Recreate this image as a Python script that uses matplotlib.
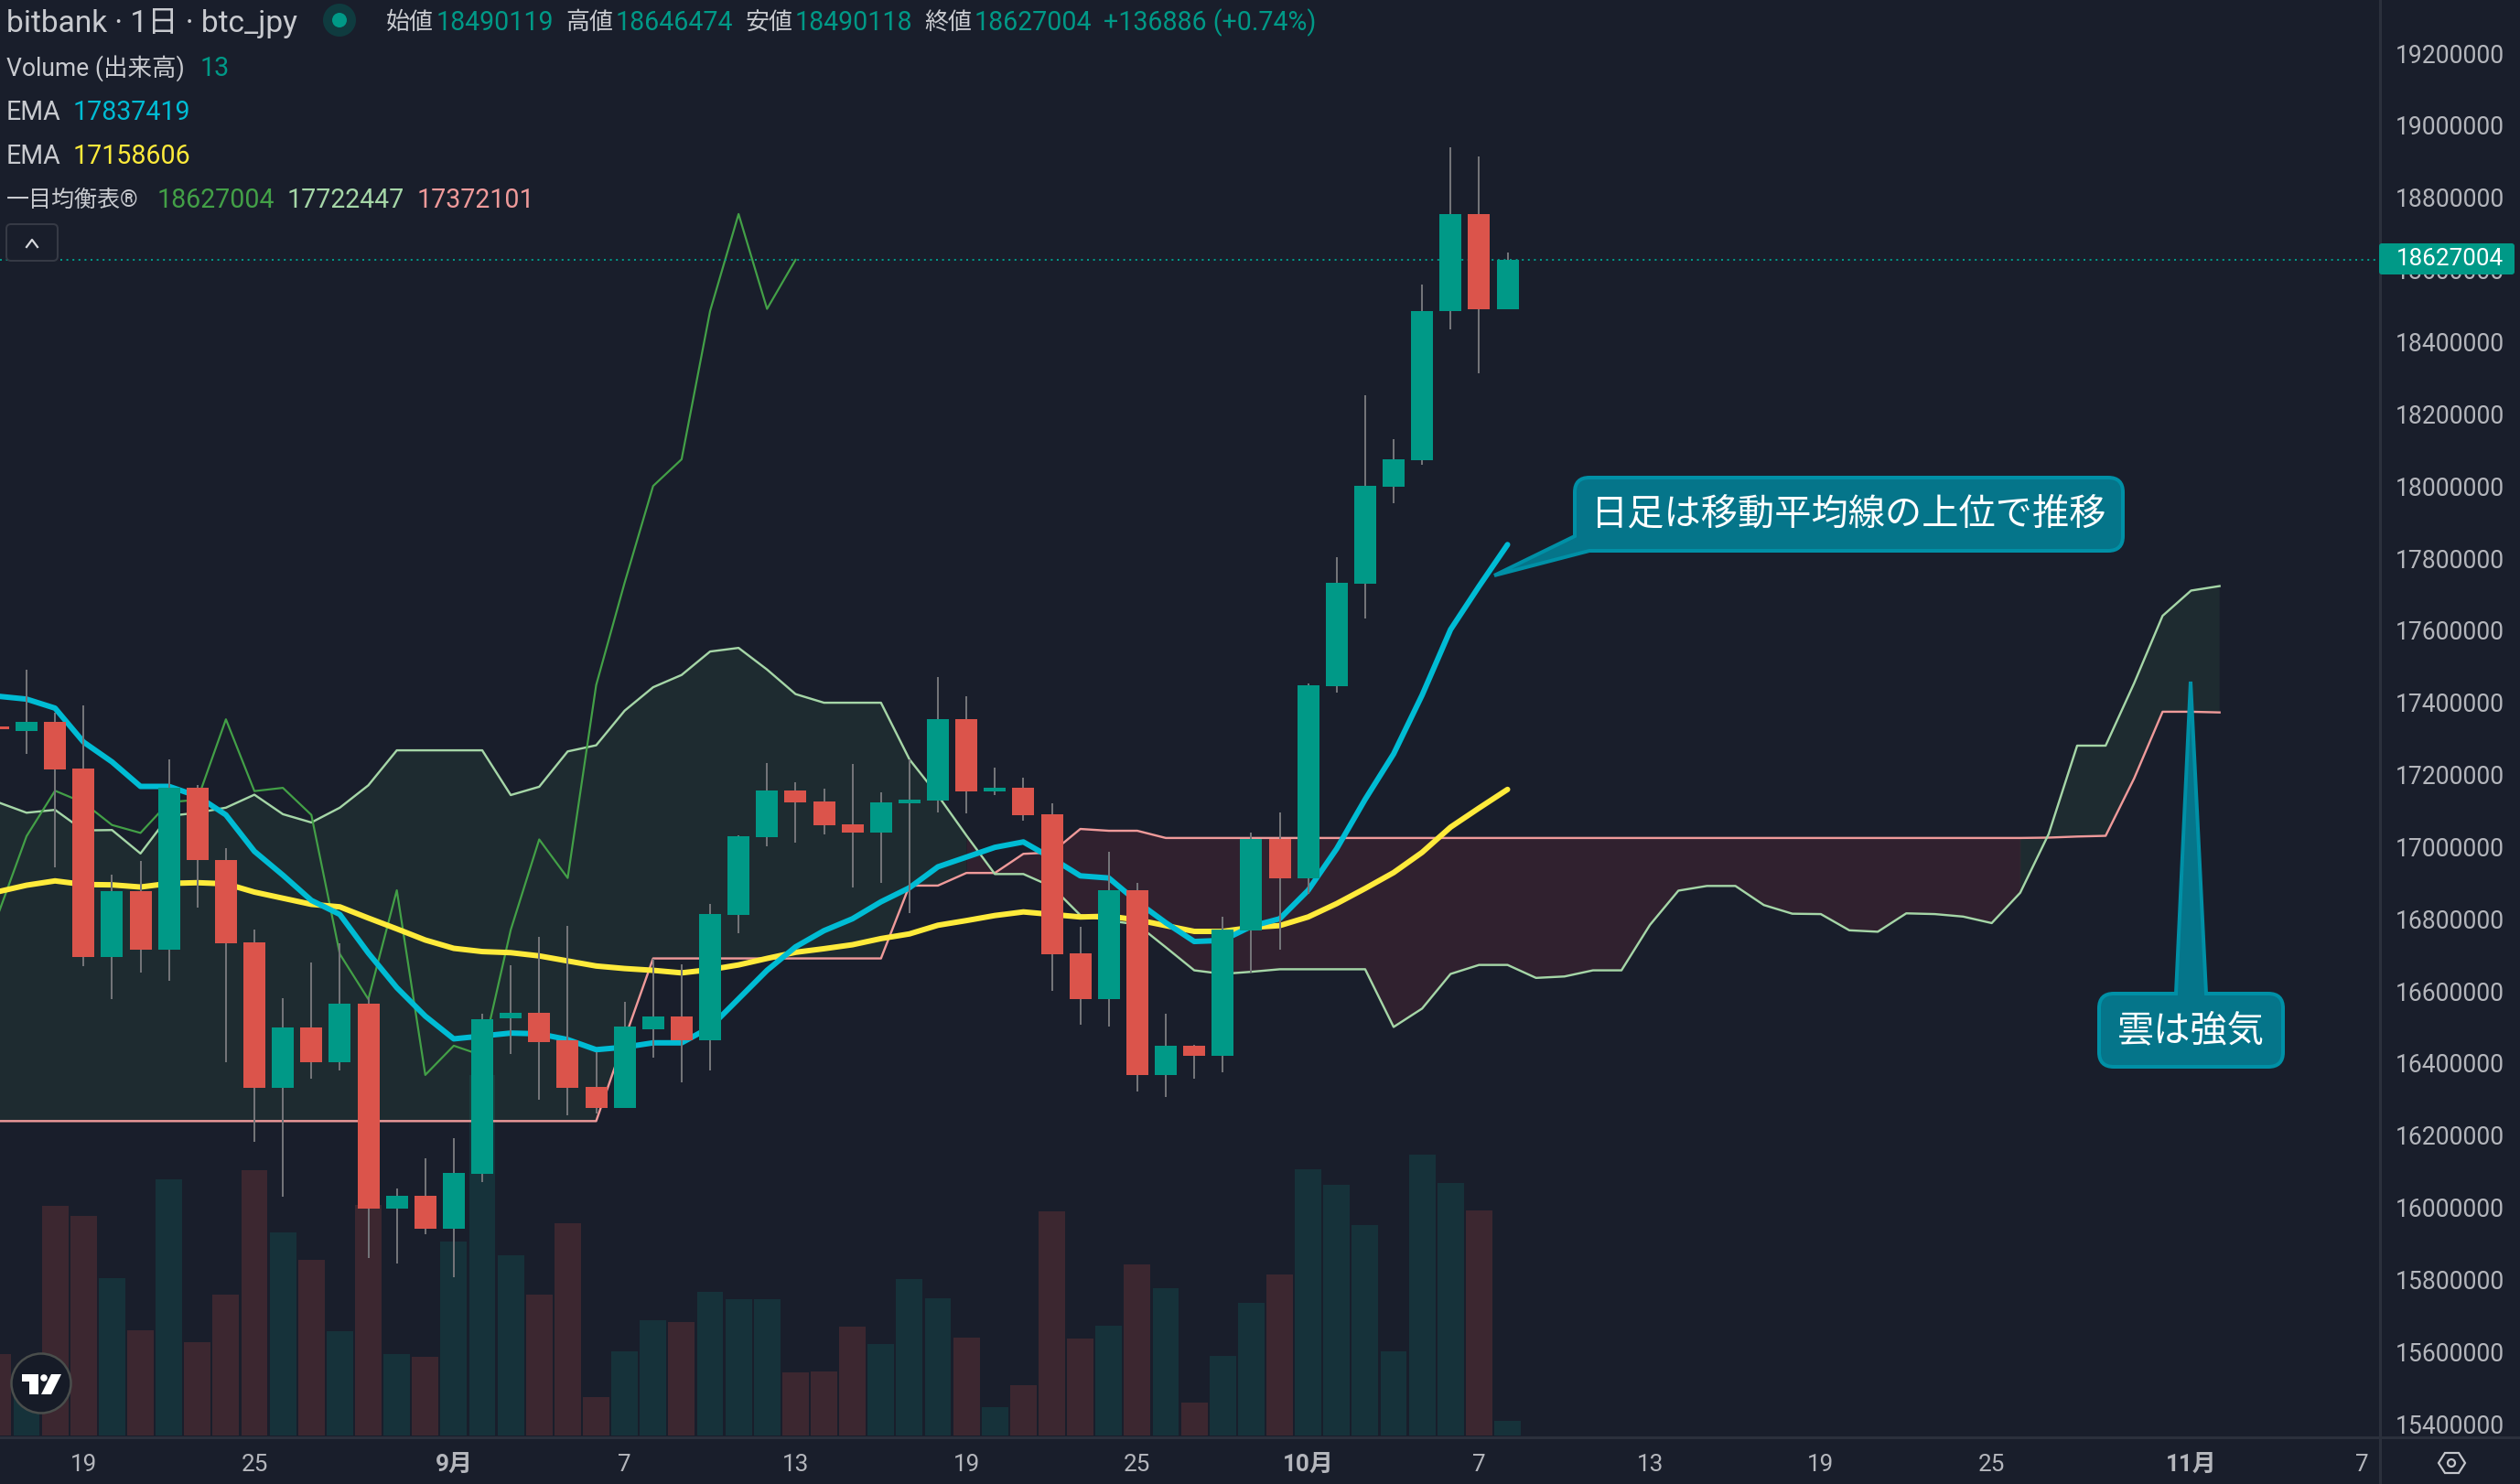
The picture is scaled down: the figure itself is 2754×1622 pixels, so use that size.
import numpy as np
import matplotlib
matplotlib.use("Agg")
import matplotlib.pyplot as plt
from matplotlib.path import Path
from matplotlib.patches import PathPatch, Circle, FancyBboxPatch, Polygon

FONT = ['Roboto', 'Noto Sans CJK JP', 'DejaVu Sans']
plt.rcParams['font.family'] = FONT

# ---------- data (prices in thousand yen, days relative to 1 Sep) ----------
first_day = -16
opens = [17332,17320,17346,17216,16694,16876,16714,17164,16963,16734,16330,16499,16403,16564,15997,16032,
         15940,16094,16524,16539,16463,16334,16276,16494,16529,16464,16811,17027,17155,17124,17062,17038,
         17120,17129,17353,17154,17163,17089,16704,16577,16879,16367,16448,16421,16768,17020,16913,17446,
         17729,17998,18072,18484,18754,18490.119]
highs = [17340,17490,17372,17391,16922,16960,17243,17172,16995,16769,16580,16680,16733,16583,16052,16136,
         16192,16536,16670,16751,16779,16430,16569,16690,16674,16841,17031,17232,17178,17160,17229,17150,
         17242,17470,17417,17218,17191,17120,16778,16986,16900,16537,16451,16805,17039,17094,17452,17802,
         18252,18129,18558,18939,18914,18646.474]
lows = [17320,17258,16943,16669,16576,16651,16629,16832,16401,16182,16030,16357,16379,15859,15844,15925,
        15806,16071,16426,16297,16256,16259,16276,16415,16346,16380,16761,17000,17012,17034,16887,16900,
        16816,17095,17093,17142,17073,16601,16507,16502,16321,16307,16357,16374,16651,16713,16868,17426,
        17633,17953,18059,18435,18313,18490.118]
closes = [17326,17346,17214,16694,16876,16714,17164,16962,16733,16330,16499,16403,16564,15997,16032,15940,
          16095,16521,16539,16459,16332,16276,16501,16529,16464,16812,17029,17155,17122,17060,17038,17123,
          17130,17353,17154,17163,17088,16702,16577,16879,16367,16448,16421,16769,17020,16913,17448,17732,
          18000,18074,18485,18754,18491,18627.004]
volumes = [71,55,201,192,138,92,224,82,123,232,178,154,91,202,71,69,170,315,158,123,186,34,74,101,99,126,119,
           119,55,56,95,80,137,120,86,25,44,196,85,96,150,129,29,70,116,141,233,219,184,74,246,221,197,13]
ema_fast = [17417,17409,17384,17290,17235,17167,17167,17140,17088,16987,16921,16851,16812,16705,16609,16530,
            16467,16475,16483,16481,16465,16437,16444,16456,16456,16499,16578,16657,16722,16767,16800,16847,
            16886,16944,16971,16998,17013,16968,16919,16913,16847,16789,16737,16740,16779,16800,16879,16994,
            17131,17257,17420,17602,17722,17837.419]
ema_slow = [16875,16893,16905,16895,16894,16888,16898,16900,16897,16874,16857,16840,16833,16802,16772,16741,
            16718,16709,16706,16697,16683,16669,16662,16657,16650,16659,16672,16690,16707,16717,16728,16745,
            16758,16782,16795,16809,16819,16812,16805,16807,16797,16781,16765,16765,16776,16781,16805,16842,
            16884,16928,16984,17054,17107,17158.606]
lagging = [16812,17029,17155,17122,17060,17038,17123,17130,17353,17154,17163,17088,16702,16577,16879,16367,
           16448,16421,16769,17020,16913,17448,17732,18000,18074,18485,18754,18491,18627.004]
span_a = [17123,17094,17102,17045,17046,16981,17085,17094,17108,17144,17090,17067,17108,17170,17267,17267,
          17267,17267,17143,17166,17264,17281,17377,17442,17476,17541,17551,17491,17423,17399,17399,17399,
          17242,17142,17031,16924,16924,16889,16810,16795,16784,16721,16657,16647,16653,16660,16660,16660,
          16660,16500,16551,16647,16672,16672,16636,16640,16657,16657,16783,16878,16891,16891,16838,16814,
          16813,16768,16764,16815,16813,16806,16788,16872,17035,17280,17280,17453,17640,17710,17722.447]
span_b = [16239,16239,16239,16239,16239,16239,16239,16239,16239,16239,16239,16239,16239,16239,16239,16239,
          16239,16239,16239,16239,16239,16239,16467,16690,16690,16690,16690,16690,16690,16690,16690,16690,
          16892,16892,16927,16927,16980,16984,17049,17044,17044,17024,17024,17024,17024,17024,17024,17024,
          17024,17024,17024,17024,17024,17024,17024,17024,17024,17024,17024,17024,17024,17024,17024,17024,
          17024,17024,17024,17024,17024,17024,17024,17024,17025,17028,17030,17189,17374,17374,17372.101]
price_ticks = [15400,15600,15800,16000,16200,16400,16600,16800,17000,17200,17400,17600,17800,18000,18200,
               18400,18600,18800,19000,19200]
date_ticks = [-13,-7,0,6,12,18,24,30,36,42,48,54,61,67]
date_labels = ['19','25','9月','7','13','19','25','10月','7','13','19','25','11月','7']
last_price = 18627.004

# ---------- style ----------
W, H = 2754, 1622
BG = '#191e2b'
UP, DOWN = '#009987', '#db544b'
GRID = '#2b303c'
TXT = '#c8cacf'
AX_TXT = '#b4b6bc'
PX = 0.72   # points per pixel at dpi 100
PANE_R, PANE_B = 2601, 1570
X0, DX = 495.9, 31.125

fig = plt.figure(figsize=(W/100, H/100), dpi=100, facecolor=BG)
rect = [0, 1-PANE_B/H, PANE_R/W, PANE_B/H]
axv = fig.add_axes(rect, facecolor=BG)
ax = fig.add_axes(rect, facecolor='none', sharex=axv)

o, h, l, c = map(np.array, (opens, highs, lows, closes))
xs = first_day + np.arange(len(o))
up = c >= o

# volume pane
axv.bar(xs, volumes, width=0.93, color=np.where(up, '#16323a', '#3c2730'), linewidth=0)
axv.set_ylim(-0.8, PANE_B*0.8-0.8)
axv.axis('off')

# price pane
ax.set_xlim((0-X0)/DX, (PANE_R-X0)/DX)
ax.set_ylim(17800-(PANE_B-610)*2.5368, 17800+610*2.5368)

xa = first_day + np.arange(len(span_a))
A, B = np.array(span_a), np.array(span_b)
seg_up = A[1:] >= B[1:]
green_pts = np.zeros(len(A), bool)
red_pts = np.zeros(len(A), bool)
for i, s in enumerate(seg_up):
    if s:
        green_pts[i:i+2] = True
    else:
        red_pts[i:i+2] = True
ax.fill_between(xa, A, B, where=green_pts, color='#4ba05d', alpha=0.1, linewidth=0, zorder=1)
ax.fill_between(xa, A, B, where=red_pts, color='#ff3c53', alpha=0.1, linewidth=0, zorder=1)
ax.plot(xa, B, color='#ef9a9a', lw=2.4*PX, zorder=2)
ax.plot(xa, A, color='#a5d6a7', lw=2.4*PX, zorder=2)
ax.plot(first_day+np.arange(len(lagging)), lagging, color='#43a047', lw=2.2*PX, zorder=3)
ax.plot(xs, ema_slow, color='#ffeb3b', lw=6*PX, zorder=4, solid_capstyle='round', solid_joinstyle='round')
ax.plot(xs, ema_fast, color='#00bcd4', lw=6*PX, zorder=5, solid_capstyle='round', solid_joinstyle='round')
ax.axhline(last_price, color=UP, lw=2*PX, ls=(0, (1, 2.3)), zorder=5)
ax.vlines(xs, l, h, color='#737478', lw=2*PX, zorder=6)
ax.bar(xs, np.abs(c-o), bottom=np.minimum(c, o), width=0.77, color=np.where(up, UP, DOWN), linewidth=0, zorder=7)

for s in ax.spines.values():
    s.set_visible(False)
ax.yaxis.tick_right()
ax.set_yticks(price_ticks)
ax.set_yticklabels([f'{t*1000}' for t in price_ticks], color=AX_TXT, fontsize=26.5*PX)
ax.tick_params(axis='y', length=0, pad=17*PX)
ax.set_xticks(date_ticks)
ax.set_xticklabels(date_labels, color=AX_TXT, fontsize=26*PX)
for lab, txt in zip(ax.get_xticklabels(), date_labels):
    if '月' in txt:
        lab.set_fontweight('bold')
ax.tick_params(axis='x', length=0, pad=19*PX)

# ---------- overlay in pixel space (legend text, callouts, logo) ----------
ov = fig.add_axes([0, 0, 1, 1], facecolor='none')
ov.set_xlim(0, W)
ov.set_ylim(H, 0)
ov.axis('off')
ov.plot([PANE_R, PANE_R], [0, H], color=GRID, lw=3*PX, zorder=1)
ov.plot([0, W], [1571, 1571], color=GRID, lw=3*PX, zorder=1)

def label(x, y, s, color=TXT, size=28.5, **kw):
    ov.text(x, y, s, color=color, fontsize=size*PX, va='center', ha=kw.pop('ha', 'left'), **kw)

label(7, 25, 'bitbank · 1日 · btc_jpy', size=33.5)
ov.add_patch(Circle((371, 22), 18, color='#0f3b3f', lw=0))
ov.add_patch(Circle((371, 22), 8, color=UP, lw=0))
for x, s, col, sz in [(422, '始値', TXT, 26), (477, '18490119', UP, 28.5), (618, '高値', TXT, 26), (673, '18646474', UP, 28.5),
                      (814, '安値', TXT, 26), (869, '18490118', UP, 28.5), (1010, '終値', TXT, 26), (1065, '18627004', UP, 28.5),
                      (1206, '+136886 (+0.74%)', UP, 28.5)]:
    label(x, 25, s, color=col, size=sz)
label(7, 75, 'Volume (出来高)', size=26.5)
label(219, 75, '13', color=UP)
label(7, 123, 'EMA')
label(80, 123, '17837419', color='#00bcd4')
label(7, 171, 'EMA')
label(80, 171, '17158606', color='#ffeb3b')
label(7, 219, '一目均衡表®', size=25)
label(172, 219, '18627004', color='#43a047')
label(314, 219, '17722447', color='#a5d6a7')
label(456, 219, '17372101', color='#ef9a9a')

ov.add_patch(FancyBboxPatch((7, 245), 56, 40, boxstyle='round,pad=0,rounding_size=5',
                            fc=BG, ec='#363a45', lw=2*PX))
ov.plot([29, 35, 41], [270, 262, 270], color='#d8dade', lw=2.2*PX)

# last price tag
ov.add_patch(FancyBboxPatch((2600, 266), 148, 34, boxstyle='round,pad=0,rounding_size=3', fc=UP, ec='none', zorder=3))
ov.text(2677, 283, '18627004', color='white', fontsize=26*PX, ha='center', va='center', zorder=4)

def callout(x0, y0, x1, y1, pts, r=16):
    """Rounded box with a pointed tail; pts are inserted on the outline."""
    v, code = [], []
    def add(p, cd):
        v.append(p); code.append(cd)
    add((x0+r, y0), Path.MOVETO)
    top = pts.get('top', [])
    for p in top:
        add(p, Path.LINETO)
    add((x1-r, y0), Path.LINETO)
    add((x1, y0), Path.CURVE3); add((x1, y0+r), Path.CURVE3)
    add((x1, y1-r), Path.LINETO)
    add((x1, y1), Path.CURVE3); add((x1-r, y1), Path.CURVE3)
    bl = pts.get('left', [])
    if bl:
        for p in bl:
            add(p, Path.LINETO)
    else:
        add((x0+r, y1), Path.LINETO)
        add((x0, y1), Path.CURVE3); add((x0, y1-r), Path.CURVE3)
    add((x0, y0+r), Path.LINETO)
    add((x0, y0), Path.CURVE3); add((x0+r, y0), Path.CURVE3)
    add((x0+r, y0), Path.CLOSEPOLY)
    ov.add_patch(PathPatch(Path(v, code), fc='#05758a', ec='#0090a6', lw=4*PX, zorder=8, joinstyle='miter'))

callout(1721, 522, 2320, 602, {'left': [(1737, 602), (1633, 629), (1721, 586)]})
callout(2294, 1086, 2495, 1166, {'top': [(2378, 1086), (2394, 745), (2411, 1086)]})
ov.text(2021, 562, '日足は移動平均線の上位で推移', color='white', fontsize=40.2*PX, ha='center', va='center',
        family=['Noto Sans CJK JP'], zorder=9)
ov.text(2394, 1127, '雲は強気', color='white', fontsize=40.2*PX, ha='center', va='center',
        family=['Noto Sans CJK JP'], zorder=9)

# TradingView mark
ov.add_patch(Circle((45, 1512), 32.5, fc='#161b27', ec='#4a4e4c', lw=2.5*PX, zorder=8))
ov.add_patch(Polygon([(24, 1502), (42, 1502), (42, 1524), (32, 1524), (32, 1510), (24, 1510)], fc='white', ec='none', zorder=9))
ov.add_patch(Circle((48, 1506), 3.8, fc='white', ec='none', zorder=9))
ov.add_patch(Polygon([(56, 1502), (67, 1502), (56, 1524), (45, 1524)], fc='white', ec='none', zorder=9))

# settings icon
ov.add_patch(Polygon([(2665, 1599), (2672, 1588), (2687, 1588), (2694, 1599), (2687, 1610), (2672, 1610)],
                     fc='none', ec='#c4c6cb', lw=2.2*PX))
ov.add_patch(Circle((2679, 1599), 4, fc='none', ec='#c4c6cb', lw=2.2*PX))

fig.savefig('out.png', dpi=100, facecolor=BG)
